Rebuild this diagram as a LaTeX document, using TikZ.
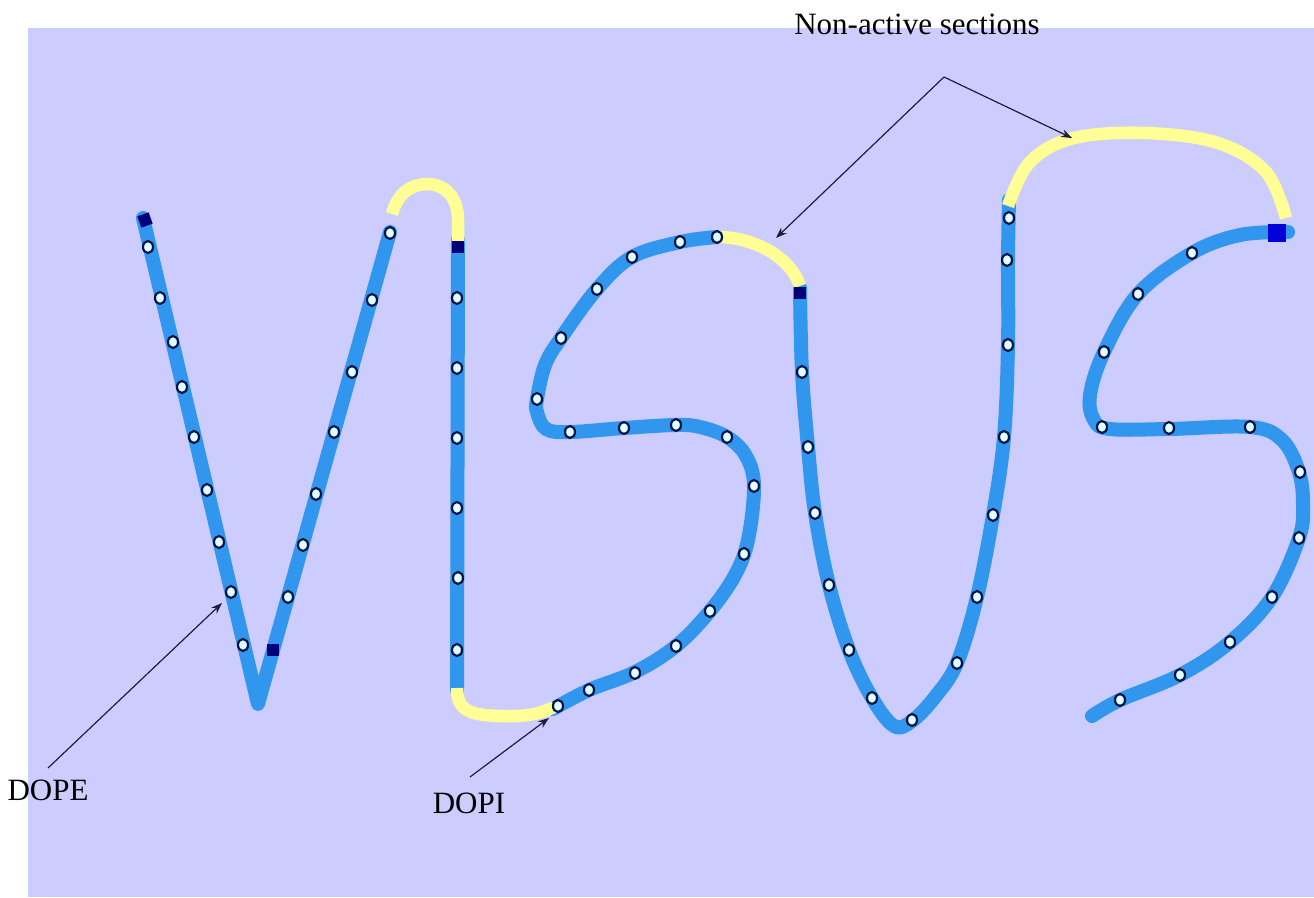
\documentclass[tikz,border=0pt]{standalone}
\usepackage{fontspec}
\setmainfont{Liberation Serif}
\usetikzlibrary{arrows.meta}
\definecolor{bgcol}{RGB}{204,204,255}
\definecolor{strokecol}{RGB}{48,150,238}
\definecolor{inactivecol}{RGB}{255,255,150}
\definecolor{knotline}{RGB}{0,20,70}
\definecolor{knotfill}{RGB}{225,255,255}
\definecolor{endcol}{RGB}{0,0,120}
\definecolor{pointcol}{RGB}{30,30,60}

\begin{document}
\begin{tikzpicture}[x=1pt,y=-1pt,
    stroke/.style={draw=strokecol,line width=14pt,line cap=round,line join=round},
    inactive/.style={draw=inactivecol,line width=12.5pt,line cap=butt},
    knot/.style={draw=knotline,fill=knotfill,line width=2.2pt},
    endbox/.style={fill=endcol},
    pointer/.style={draw=pointcol,line width=1.2pt,-{Stealth[length=11pt,width=8pt]}},
    caption/.style={font=\fontsize{31}{36}\selectfont,inner sep=0pt,anchor=base}
  ]
  \useasboundingbox (0,0) rectangle (1314,897);
  \fill[bgcol] (28,28) rectangle (1314,897);

  % active sections of the stroke
  \draw[stroke] (143,218) -- (258,704) -- (390,232);
  \draw[stroke] (458,240) -- (457,690);
  \draw[stroke] plot[smooth,tension=0.6] coordinates {(553,709) (589,690) (635,672)
    (676,646) (710,611) (735,575) (748,540) (754,486) (746,456) (727,437) (700,427)
    (676,425) (624,428) (570,432) (546,429) (537,412) (537,399) (545,365) (561,338)
    (597,289) (632,257) (680,242) (717,237)};
  \draw[stroke] plot[smooth,tension=0.6] coordinates {(800,288) (802,372) (808,447)
    (815,513) (829,585) (849,650) (872,698) (894,726) (912,721) (935,697) (957,663)
    (977,597) (993,515) (1004,437) (1008,345) (1008,260) (1009,200)};
  \draw[stroke] plot[smooth,tension=0.6] coordinates {(1288,232) (1240,235) (1192,253)
    (1138,294) (1104,352) (1090,395) (1094,420) (1110,429) (1169,429) (1250,427)
    (1282,440) (1299,472) (1303,505) (1299,538) (1272,597) (1230,642) (1180,675)
    (1120,700) (1092,716)};

  % non-active sections
  \draw[inactive] (392,214) .. controls (398,192) and (412,184) .. (428,184)
    .. controls (448,185) and (458,200) .. (458,220) -- (458,242);
  \draw[inactive] (457,688) .. controls (457,712) and (472,715) .. (500,716)
    .. controls (525,717) and (540,714) .. (554,707);
  \draw[inactive] (715,237) .. controls (750,236) and (790,255) .. (800,286);
  \draw[inactive] plot[smooth,tension=0.6] coordinates {(1008,206) (1030,162) (1074,138)
    (1146,133) (1218,143) (1266,172) (1286,218)};

  % section end points
  \fill[endbox,rotate around={20:(145,220)}] (139,214) rectangle ++(12,12);
  \fill[endbox] (267,644) rectangle ++(12,12);
  \fill[endbox] (452,241) rectangle ++(12,12);
  \fill[endbox] (794,287) rectangle ++(12,12);
  \fill[endbox,fill=blue!85!black] (1268,224) rectangle ++(18,18);

  % knots along the stroke
  \foreach \kx/\ky in {148/247,160/298,173/342,182/387,194/437,207/490,219/542,231/592,243/645,
      288/597,303/545,316/494,334/432,352/372,372/300,390/233,
      457/298,457/368,457/438,457/508,458/578,457/650,
      558/706,589/690,635/673,676/646,710/611,744/554,754/486,727/437,676/425,624/428,570/432,
      537/399,561/338,597/289,632/257,680/242,717/237,
      802/372,808/447,815/513,829/585,849/650,872/698,912/720,957/663,977/597,993/515,
      1004/437,1008/345,1007/260,1009/218,
      1192/253,1138/294,1104/352,1102/427,1169/428,1250/427,1300/472,1299/538,1272/597,
      1230/642,1180/675,1120/700}
    \draw[knot] (\kx,\ky) ellipse [x radius=5pt,y radius=6pt];

  % labels and pointers
  \node[caption] (nonactive) at (917,34) {Non-active sections};
  \node[caption] (dope) at (48,800) {DOPE};
  \node[caption] (dopi) at (469,813) {DOPI};
  \coordinate (fork) at (944,77);
  \coordinate (tipS) at (776,238);
  \coordinate (tipArc) at (1072,138);
  \coordinate (dopefoot) at (48,768);
  \coordinate (dopetip) at (222,603);
  \coordinate (dopifoot) at (470,777);
  \coordinate (dopitip) at (549,718);
  \draw[pointer] (fork) -- (tipS);
  \draw[pointer] (fork) -- (tipArc);
  \draw[pointer] (dopefoot) -- (dopetip);
  \draw[pointer] (dopifoot) -- (dopitip);
\end{tikzpicture}
\end{document}
